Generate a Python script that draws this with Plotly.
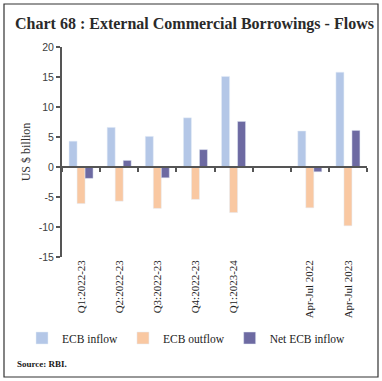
import plotly.graph_objects as go

categories = ["Q1:2022-23", "Q2:2022-23", "Q3:2022-23", "Q4:2022-23", "Q1:2023-24", " ", "Apr-Jul 2022", "Apr-Jul 2023"]
ecb_inflow = [4.3, 6.6, 5.1, 8.2, 15.1, None, 6.0, 15.8]
ecb_outflow = [-6.1, -5.7, -6.9, -5.4, -7.6, None, -6.8, -9.8]
net_ecb_inflow = [-1.9, 1.1, -1.8, 2.9, 7.6, None, -0.8, 6.1]
y_tickvals = [-15, -10, -5, 0, 5, 10, 15, 20]
y_ticktext = ["-15", "-10", "-5", "0", "5", "10", "15", "20"]

W, H = 382, 381
ML, MR, MT, MB = 62, 15, 47, 124
PW, PH = W - ML - MR, H - MT - MB

def px_x(p):
    return (p - ML) / PW

def px_y(p):
    return 1 - (p - MT) / PH

serif = "Liberation Serif"
fig = go.Figure()
fig.add_trace(go.Bar(x=categories, y=ecb_inflow, name="ECB inflow", marker_color="#b4c7e7"))
fig.add_trace(go.Bar(x=categories, y=ecb_outflow, name="ECB outflow", marker_color="#f9c8a2"))
fig.add_trace(go.Bar(x=categories, y=net_ecb_inflow, name="Net ECB inflow", marker_color="#6d6aa2"))
# helper trace to carry the category ticks on the zero-line axis
fig.add_trace(go.Scatter(x=categories, y=[None] * len(categories), xaxis="x2", mode="markers",
                         showlegend=False, hoverinfo="skip"))

fig.update_layout(
    width=W, height=H,
    margin=dict(l=ML, r=MR, t=MT, b=MB),
    paper_bgcolor="white", plot_bgcolor="white",
    barmode="group", bargap=0.37, bargroupgap=0,
    title=dict(text="<b>Chart 68 : External Commercial Borrowings - Flows</b>",
               x=15 / W, xanchor="left", y=1 - 23 / H, yanchor="middle",
               font=dict(family=serif, size=16, color="#2a2a2a")),
    xaxis=dict(range=[-0.5, 7.5], showline=False, ticks="", tickangle=-90,
               tickfont=dict(family=serif, size=11, color="#222222"), showgrid=False, zeroline=False),
    xaxis2=dict(overlaying="x", anchor="free", position=15 / 35, range=[-0.5, 7.5],
                showline=True, linecolor="#555555", linewidth=1.5, ticks="outside", tickson="boundaries",
                ticklen=4, tickwidth=1.5, tickcolor="#555555", showticklabels=False, showgrid=False, zeroline=False),
    yaxis=dict(range=[-15, 20], tickvals=y_tickvals, ticktext=y_ticktext, showline=True, linecolor="#555555",
               linewidth=2, ticks="outside", ticklen=4, tickwidth=1.5, tickcolor="#555555", showgrid=False, zeroline=False,
               tickfont=dict(family="Liberation Sans", size=10.5, color="#404040"),
               title=dict(text="US $ billion", font=dict(family=serif, size=12, color="#333333"), standoff=6)),
    legend=dict(orientation="h", x=px_x(22), xanchor="left", y=px_y(338), yanchor="middle",
                font=dict(family=serif, size=11.5, color="#222222"), itemwidth=30, tracegroupgap=0),
    annotations=[dict(text="<b>Source: RBI.</b>", xref="paper", yref="paper", x=px_x(15), y=px_y(364),
                      xanchor="left", yanchor="middle", showarrow=False,
                      font=dict(family=serif, size=9, color="#1a1a1a"))],
    shapes=[dict(type="rect", xref="paper", yref="paper", x0=px_x(4), x1=px_x(378), y0=px_y(377), y1=px_y(4),
                 line=dict(color="#333333", width=1.2), layer="below")],
)

fig.write_html("out.html", config={"displayModeBar": False},
               post_script="document.body.style.margin='0';document.body.style.overflow='hidden';")
